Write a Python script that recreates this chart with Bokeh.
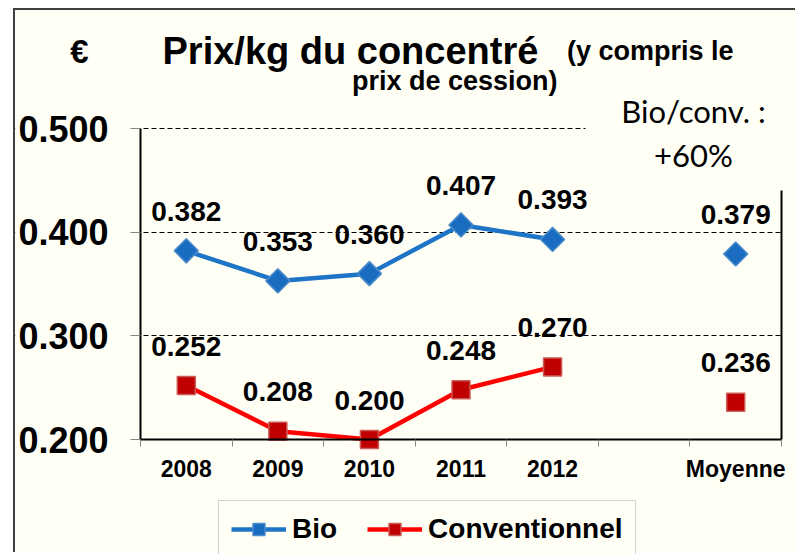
import math
from bokeh.plotting import figure
from bokeh.models import (ColumnDataSource, Range1d, FixedTicker, LabelSet, Label,
                          BoxAnnotation, Legend, LegendItem, NumeralTickFormatter)
from bokeh.core.properties import value
from bokeh.embed import file_html
from bokeh.resources import INLINE

# ---- data ----
categories = ["2008", "2009", "2010", "2011", "2012", "", "Moyenne"]
bio = [0.382, 0.353, 0.360, 0.407, 0.393, float("nan"), 0.379]
conv = [0.252, 0.208, 0.200, 0.248, 0.270, float("nan"), 0.236]
y_ticks = [0.2, 0.3, 0.4, 0.5]
title_main = "Prix/kg du concentré"
title_sub1 = "(y compris le"
title_sub2 = "prix de cession)"
unit_text = "€"
note_lines = ["Bio/conv. :", "+60%"]

BG = "#FFFFF6"
FONT = "Liberation Sans"
BLUE_LINE = "#1E74C6"
BLUE_FILL = "#1A6CC0"
BLUE_EDGE = "#4D8BCB"
RED_LINE = "#FF0000"
RED_FILL = "#C00000"
RED_EDGE = "#CC5A57"

n = len(categories)
xs = [i + 0.5 for i in range(n)]

# ---- layout (page pixels) ----
W, H = 782, 544
CX0, CY0 = 15, 10                 # canvas origin on the page
PX_L, PX_R = 140, 781             # page x of category 0 and n
PY_B, PY_T = 439, 128             # page y of first and last y tick
sx = (PX_R - PX_L) / n
sy = (PY_B - PY_T) / (y_ticks[-1] - y_ticks[0])
LABEL_DY = 13                     # baseline correction for free labels

def dx(px):
    return (px - PX_L) / sx

def dy(py):
    return y_ticks[0] + (PY_B - py) / sy

x_range = Range1d(dx(CX0), dx(CX0 + W))
y_range = Range1d(dy(CY0 + H), dy(CY0))

p = figure(width=W, height=H, x_range=x_range, y_range=y_range,
           output_backend="svg", toolbar_location=None,
           min_border_left=0, min_border_top=0, min_border_right=0, min_border_bottom=0,
           background_fill_color=BG, border_fill_color=BG, outline_line_color=None)
p.styles = {"margin-left": "13px", "margin-top": "8px",
            "border-left": "2px solid #3F3F3F", "border-top": "2px solid #3F3F3F"}

# axes (fixed inside the frame)
ya = p.yaxis[0]
ya.fixed_location = 0
ya.bounds = (y_ticks[0], y_ticks[-1])
ya.ticker = FixedTicker(ticks=y_ticks)
ya.formatter = NumeralTickFormatter(format="0.000")
ya.major_label_text_font = FONT
ya.major_label_text_font_size = "36px"
ya.major_label_text_font_style = "bold"
ya.major_label_text_color = "black"
ya.major_label_standoff = 22
ya.axis_line_width = 2
ya.axis_line_color = "black"
ya.major_tick_out = 10
ya.major_tick_in = 0
ya.major_tick_line_color = "#868686"
ya.minor_tick_line_color = None

xa = p.xaxis[0]
xa.fixed_location = y_ticks[0]
xa.bounds = (0, n)
xa.ticker = FixedTicker(ticks=xs, minor_ticks=list(range(n + 1)))
xa.major_label_overrides = {x: c for x, c in zip(xs, categories)}
xa.major_label_text_font = FONT
xa.major_label_text_font_size = "23px"
xa.major_label_text_font_style = "bold"
xa.major_label_text_color = "black"
xa.major_label_standoff = 9
xa.axis_line_width = 2
xa.axis_line_color = "black"
xa.major_tick_out = 0
xa.major_tick_in = 0
xa.major_tick_line_color = None
xa.minor_tick_out = 7
xa.minor_tick_in = 0
xa.minor_tick_line_color = "#868686"

p.xgrid.visible = False
p.ygrid.ticker = FixedTicker(ticks=y_ticks[1:])
p.ygrid.grid_line_color = "black"
p.ygrid.grid_line_dash = "5 3"
p.ygrid.grid_line_width = 1

# covers limiting the grid lines to the plot area (drawn right after the grid)
p.add_layout(BoxAnnotation(right=0, fill_color=BG, fill_alpha=1, line_color=None, level="underlay"))
p.add_layout(BoxAnnotation(left=n, fill_color=BG, fill_alpha=1, line_color=None, level="underlay"))
p.add_layout(BoxAnnotation(left=dx(585), bottom=dy(190), fill_color=BG, fill_alpha=1,
                           line_color=None, level="underlay"))
# right frame edge below the note
p.segment(x0=[n], y0=[y_ticks[0]], x1=[n], y1=[dy(190)], line_color="black", line_width=2)

# series
r_bl = p.line(xs, bio, line_color=BLUE_LINE, line_width=4.5)
r_bp = p.scatter(xs, bio, marker="square", size=17, angle=math.pi / 4,
                 fill_color=BLUE_FILL, line_color=BLUE_EDGE, line_width=1.5)
r_cl = p.line(xs, conv, line_color=RED_LINE, line_width=4.5)
r_cp = p.scatter(xs, conv, marker="square", size=18,
                 fill_color=RED_FILL, line_color=RED_EDGE, line_width=1.5)

# data labels
for vals in (bio, conv):
    src = ColumnDataSource(dict(
        x=[x for x, v in zip(xs, vals) if not math.isnan(v)],
        y=[v for v in vals if not math.isnan(v)],
        t=["%.3f" % v for v in vals if not math.isnan(v)]))
    p.add_layout(LabelSet(x="x", y="y", text="t", source=src, text_align="center",
                          text_baseline="alphabetic", y_offset=30, text_font=value(FONT),
                          text_font_size=value("28px"), text_font_style="bold",
                          text_color="black"))

# titles / notes
def lab(txt, px, py, size, align="left", style="bold", font=FONT):
    p.add_layout(Label(x=dx(px), y=dy(py - LABEL_DY), text=txt, text_align=align,
                       text_baseline="alphabetic", text_font=font, text_font_size=size,
                       text_font_style=style, text_color="black"))

lab(unit_text, 79, 64, "33px", "center")
lab(title_main, 162, 63, "38px", "left")
lab(title_sub1, 733, 63, "27px", "right")
lab(title_sub2, 557, 93, "27px", "right")
lab(note_lines[0], 693, 123, "31px", "center", "normal", "Lato")
lab(note_lines[1], 693, 167, "31px", "center", "normal", "Lato")

# legend (location measured from the frame's bottom-left corner)
PAD = 12
ROW = 32
leg_left = 230 - PAD
leg_bottom = 530 - ROW / 2 - PAD + (ROW + 2 * PAD)
legend = Legend(items=[LegendItem(label="Bio", renderers=[r_bl, r_bp]),
                       LegendItem(label="Conventionnel", renderers=[r_cl, r_cp])],
                orientation="horizontal",
                location=(leg_left - CX0, (CY0 + H) - leg_bottom),
                glyph_width=55, glyph_height=30, label_standoff=6, spacing=30, padding=PAD,
                label_text_font=FONT, label_text_font_size="28px", label_text_font_style="bold",
                label_text_color="black", border_line_color="#A6A6A6", border_line_width=1,
                background_fill_color=BG, background_fill_alpha=1)
p.add_layout(legend)

open("out.html", "w").write(file_html(p, INLINE))
